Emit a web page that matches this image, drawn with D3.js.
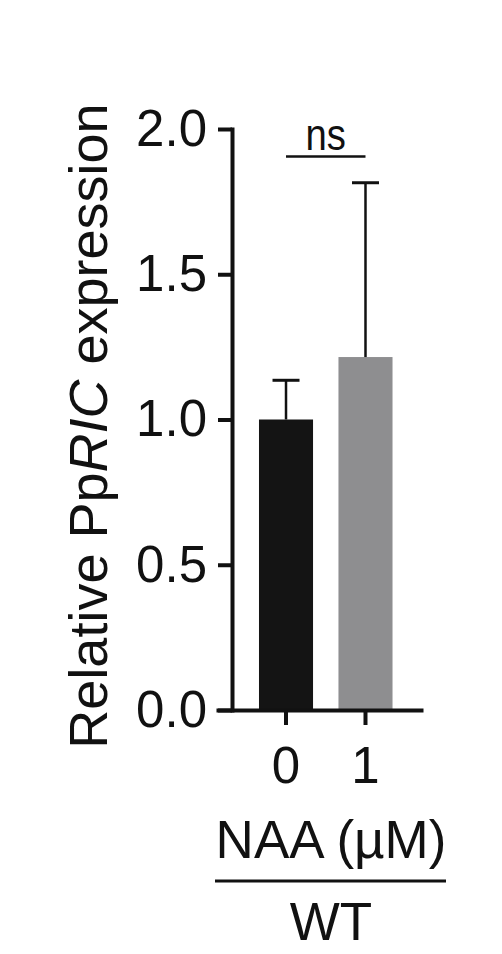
<!DOCTYPE html>
<meta charset="utf-8">
<style>

body {
  margin: 0;
  background: #fff;
}

svg {
  display: block;
  font-family: "Liberation Sans", Arial, Helvetica, sans-serif;
}

.axis path, .axis line { stroke: #111; stroke-width: 4px; fill: none; }
.axis path { stroke-linecap: square; }
.axis text { fill: #111; }
.ylab { font-size: 54px; fill: #111; }
.xlab { font-size: 53px; fill: #111; }

</style>
<body>
<script src="https://d3js.org/d3.v7.min.js"></script>
<script>

// NAA concentration (uM) on the x axis
var categories = ["0", "1"];
// mean relative expression and upper error (SD)
var means = [1.0, 1.215];
var errors = [0.135, 0.6];
var barColors = ["#141414", "#8e8e90"];
var yTicks = [0, 0.5, 1.0, 1.5, 2.0];
var sigLabel = "ns";
var sigLevel = 1.905;

var width = 502,
    height = 954;

var svg = d3.select("body").append("svg")
    .attr("width", width)
    .attr("height", height);

svg.append("rect")
    .attr("width", width)
    .attr("height", height)
    .attr("fill", "#fff");

var y = d3.scaleLinear()
    .domain([0, 2])
    .range([710, 129]);

var x = d3.scaleBand()
    .domain(categories)
    .range([218, 421])
    .paddingInner(0.32)
    .paddingOuter(0.437)
    .align(0.59);

var axisX0 = 232;

var data = categories.map(function(c, i) {
  return {cat: c, mean: means[i], err: errors[i], color: barColors[i]};
});

// bars
svg.selectAll(".bar")
    .data(data)
  .enter().append("rect")
    .attr("class", "bar")
    .attr("x", function(d) { return x(d.cat); })
    .attr("width", x.bandwidth())
    .attr("y", function(d) { return y(d.mean); })
    .attr("height", function(d) { return y(0) - y(d.mean); })
    .attr("fill", function(d) { return d.color; });

// error bars (upper only)
var eb = svg.selectAll(".err")
    .data(data)
  .enter().append("g")
    .attr("class", "err")
    .attr("transform", function(d) { return "translate(" + (x(d.cat) + x.bandwidth() / 2) + ",0)"; });

eb.append("line")
    .attr("y1", function(d) { return y(d.mean); })
    .attr("y2", function(d) { return y(d.mean + d.err); })
    .attr("stroke", "#111")
    .attr("stroke-width", 2.5);

eb.append("line")
    .attr("x1", -13.5)
    .attr("x2", 13.5)
    .attr("y1", function(d) { return y(d.mean + d.err); })
    .attr("y2", function(d) { return y(d.mean + d.err); })
    .attr("stroke", "#111")
    .attr("stroke-width", 3);

// y axis
var yAxis = svg.append("g")
    .attr("class", "axis")
    .attr("transform", "translate(" + axisX0 + ",0)")
    .call(d3.axisLeft(y)
      .tickValues(yTicks)
      .tickFormat(d3.format(".1f"))
      .tickSize(14)
      .tickSizeOuter(0)
      .tickPadding(11));

yAxis.selectAll("text")
    .style("font-size", "51px");
yAxis.attr("font-family", null).attr("font-size", null);

// x axis
var xAxis = svg.append("g")
    .attr("class", "axis")
    .attr("transform", "translate(0," + y(0) + ")")
    .call(d3.axisBottom(x)
      .tickSize(15)
      .tickSizeOuter(0)
      .tickPadding(22));

xAxis.selectAll("text")
    .style("font-size", "51px");
xAxis.attr("font-family", null).attr("font-size", null);

// y title
var yt = svg.append("text")
    .attr("class", "ylab")
    .attr("transform", "translate(106.7,426) rotate(-90)")
    .attr("text-anchor", "middle");
yt.append("tspan").text("Relative Pp");
yt.append("tspan").style("font-style", "italic").text("RIC");
yt.append("tspan").text(" expression");

// significance bracket
var sx1 = x(categories[0]) + x.bandwidth() / 2,
    sx2 = x(categories[1]) + x.bandwidth() / 2;

svg.append("line")
    .attr("x1", sx1)
    .attr("x2", sx2)
    .attr("y1", y(sigLevel))
    .attr("y2", y(sigLevel))
    .attr("stroke", "#111")
    .attr("stroke-width", 2.5);

svg.append("text")
    .attr("transform", "translate(" + ((sx1 + sx2) / 2) + "," + (y(sigLevel) - 7) + ") scale(0.85,1)")
    .attr("text-anchor", "middle")
    .style("font-size", "45px")
    .attr("fill", "#111")
    .text(sigLabel);

// x title block
var cx = 331;
svg.append("text")
    .attr("class", "xlab")
    .attr("x", cx)
    .attr("y", 858)
    .attr("text-anchor", "middle")
    .text("NAA (µM)");

svg.append("line")
    .attr("x1", 215)
    .attr("x2", 446)
    .attr("y1", 881)
    .attr("y2", 881)
    .attr("stroke", "#111")
    .attr("stroke-width", 3);

svg.append("text")
    .attr("class", "xlab")
    .attr("x", cx)
    .attr("y", 940)
    .attr("text-anchor", "middle")
    .text("WT");

</script>
